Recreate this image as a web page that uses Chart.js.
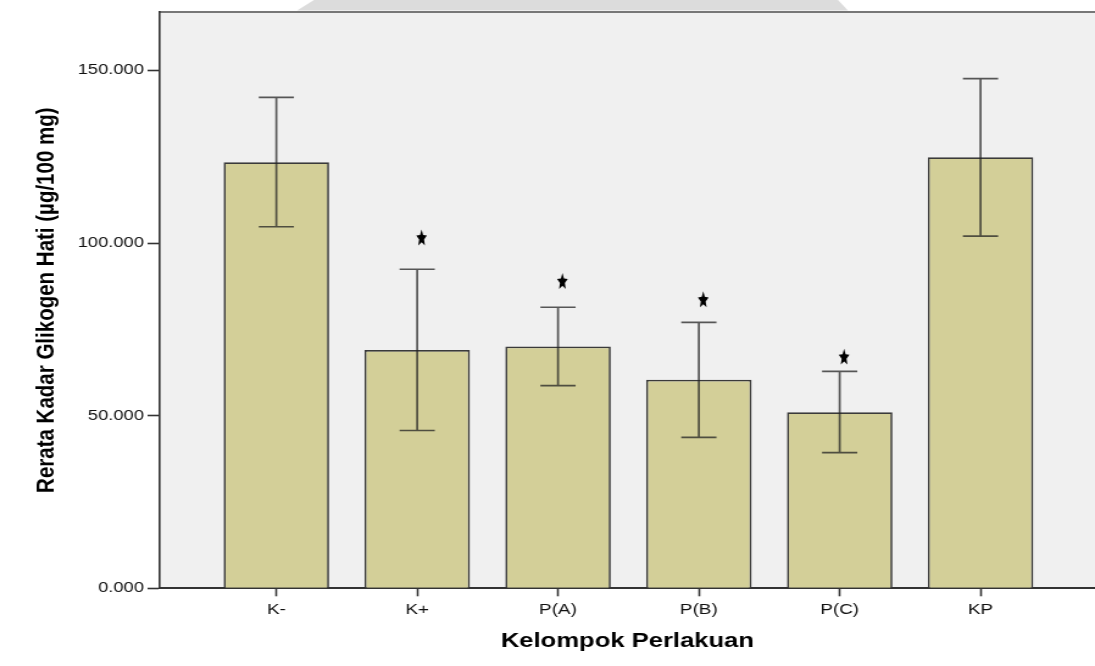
<!DOCTYPE html>
<html>
<head>
<meta charset="utf-8">
<script src="https://cdn.jsdelivr.net/npm/chart.js@4.4.1/dist/chart.umd.min.js"></script>
<style>
  html, body { margin: 0; padding: 0; background: #fff; overflow: hidden; width: 1095px; height: 666px; }
  #wrap { position: absolute; left: 0; top: 0; transform-origin: 0 0; transform: scaleX(1.2194); }
  canvas { display: block; }
</style>
</head>
<body>
<div id="wrap"><canvas id="chart" width="898" height="666"></canvas></div>
<script>
// Treatment groups and mean liver glycogen (µg/100 mg) with their error-bar limits
const categories = ['K-', 'K+', 'P(A)', 'P(B)', 'P(C)', 'KP'];
const means      = [123.4, 69.0, 70.0, 60.4, 51.0, 124.8];
const ciLower    = [104.7, 45.7, 58.7, 43.7, 39.3, 102.0];
const ciUpper    = [142.2, 92.4, 81.4, 77.0, 62.8, 147.6];
// Significance markers (star) drawn above groups that differ from K-
const starLevels = [null, 101.6, 89.0, 83.7, 67.1, null];
// Value axis ticks
const yTicks      = [0, 50, 100, 150];
const yTickLabels = ['0.000', '50.000', '100.000', '150.000'];

Chart.defaults.font.family = '"Liberation Sans", Arial, sans-serif';

// Light plot panel plus the faint band behind the top of the figure
const panelPlugin = {
  id: 'panel',
  beforeDraw(chart) {
    const { ctx, chartArea: a } = chart;
    ctx.save();
    ctx.fillStyle = '#dcdcdc';
    ctx.beginPath();
    ctx.moveTo(257.5, 0); ctx.lineTo(687.2, 0); ctx.lineTo(695.4, 10.5); ctx.lineTo(243.6, 10.5);
    ctx.closePath(); ctx.fill();
    ctx.fillStyle = '#f0f0f0';
    ctx.fillRect(a.left, a.top, a.right - a.left, a.bottom - a.top);
    ctx.strokeStyle = '#777';
    ctx.lineWidth = 2;
    ctx.beginPath();
    ctx.moveTo(a.left, a.top); ctx.lineTo(a.right, a.top);
    ctx.stroke();
    ctx.restore();
  }
};

// Error bars from the lower/upper limits
const errorBarPlugin = {
  id: 'errorBars',
  afterDatasetsDraw(chart) {
    const { ctx, scales: { x, y } } = chart;
    const half = x.getPixelForValue(0.125) - x.getPixelForValue(0);
    ctx.save();
    ctx.strokeStyle = 'rgba(35,35,35,0.75)';
    ctx.lineWidth = 1.7;
    categories.forEach((c, i) => {
      const px = x.getPixelForValue(i);
      const lo = y.getPixelForValue(ciLower[i]);
      const hi = y.getPixelForValue(ciUpper[i]);
      ctx.beginPath();
      ctx.moveTo(px, hi); ctx.lineTo(px, lo);
      ctx.moveTo(px - half, hi); ctx.lineTo(px + half, hi);
      ctx.moveTo(px - half, lo); ctx.lineTo(px + half, lo);
      ctx.stroke();
    });
    ctx.restore();
  }
};

// Filled five-point stars marking significant groups
const starPlugin = {
  id: 'stars',
  afterDatasetsDraw(chart) {
    const { ctx, scales: { x, y } } = chart;
    const rx = 4.6, ry = 8.8, inner = 0.46;
    ctx.save();
    ctx.fillStyle = '#000';
    starLevels.forEach((v, i) => {
      if (v === null) return;
      const cx = x.getPixelForValue(i) + 3.6;
      const cy = y.getPixelForValue(v) + 0.0955 * ry;
      ctx.beginPath();
      for (let k = 0; k < 10; k++) {
        const ang = -Math.PI / 2 + k * Math.PI / 5;
        const r = (k % 2) ? inner : 1;
        const px = cx + Math.cos(ang) * rx * r;
        const py = cy + Math.sin(ang) * ry * r;
        if (k === 0) ctx.moveTo(px, py); else ctx.lineTo(px, py);
      }
      ctx.closePath();
      ctx.fill();
    });
    ctx.restore();
  }
};

new Chart(document.getElementById('chart'), {
  type: 'bar',
  data: {
    datasets: [{
      data: categories.map((c, i) => ({ x: i, y: means[i] })),
      backgroundColor: '#d3cf98',
      borderColor: '#3a3a3a',
      borderWidth: 1.7,
      barPercentage: 0.749,
      categoryPercentage: 1
    }]
  },
  options: {
    responsive: false,
    animation: false,
    layout: { padding: { top: 12, left: 0, right: 0, bottom: 0 } },
    plugins: { legend: { display: false }, tooltip: { enabled: false } },
    scales: {
      x: {
        type: 'linear',
        offset: false,
        min: -0.828,
        max: 5.813,
        afterBuildTicks: s => { s.ticks = categories.map((c, i) => ({ value: i })); },
        afterFit: s => { s.height = 77.7; },
        ticks: {
          callback: (v, i) => categories[i],
          font: { size: 15.5 },
          color: '#111',
          padding: 4,
          autoSkip: false,
          maxRotation: 0
        },
        grid: { offset: false, drawOnChartArea: false, drawTicks: true, tickLength: 8, tickColor: '#333', tickWidth: 1.6 },
        border: { display: true, color: '#333', width: 2 },
        title: {
          display: true,
          text: 'Kelompok Perlakuan',
          font: { size: 21, weight: 'bold' },
          color: '#000',
          padding: { top: 0, bottom: 11.7 }
        }
      },
      y: {
        min: 0,
        max: 166.9,
        afterBuildTicks: s => { s.ticks = yTicks.map(v => ({ value: v })); },
        afterFit: s => { s.width = 131; },
        ticks: {
          callback: (v, i) => yTickLabels[i],
          font: { size: 15 },
          color: '#111',
          padding: 3
        },
        grid: { drawOnChartArea: false, drawTicks: true, tickLength: 10, tickColor: '#333', tickWidth: 1.6 },
        border: { display: true, color: '#333', width: 1.6 },
        title: {
          display: true,
          text: 'Rerata Kadar Glikogen Hati (µg/100 mg)',
          font: { size: 20.5, weight: 'bold' },
          color: '#000',
          padding: { top: 26.5, bottom: 0 }
        }
      }
    }
  },
  plugins: [panelPlugin, errorBarPlugin, starPlugin]
});
</script>
</body>
</html>
